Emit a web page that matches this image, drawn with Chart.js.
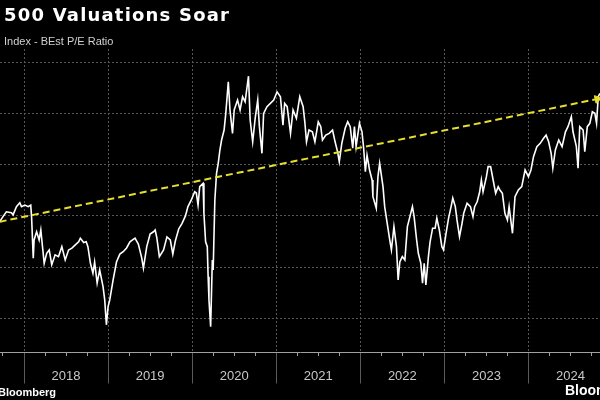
<!DOCTYPE html>
<html>
<head>
<meta charset="utf-8">
<script src="https://cdn.jsdelivr.net/npm/chart.js@4.4.1/dist/chart.umd.min.js"></script>
<style>
  html, body { margin: 0; padding: 0; background: #000; }
  #wrap { position: relative; width: 600px; height: 400px; overflow: hidden; background: #000; }
  #chartBox { position: absolute; left: 0; top: 0; width: 600px; height: 400px; }
  .txt { position: absolute; white-space: nowrap; color: #fff; }
  #title { left: 4px; top: 5.5px; font: bold 18px/18px "DejaVu Sans", sans-serif; letter-spacing: 1.2px; }
  #subtitle { left: 4px; top: 35.7px; font: 11px/11px "Liberation Sans", Arial, sans-serif; color: #d0d0d0; }
  #source { left: -2px; top: 386.7px; font: bold 11px/11px "Liberation Sans", Arial, sans-serif; color: #fff; }
  #logo { left: 565px; top: 383px; font: bold 14px/14px "Liberation Sans", Arial, sans-serif; color: #fff; }
</style>
</head>
<body>
<div id="wrap">
  <div id="chartBox"><canvas id="c" width="600" height="400"></canvas></div>
  <div class="txt" id="title">500 Valuations Soar</div>
  <div class="txt" id="subtitle">Index - BEst P/E Ratio</div>
  <div class="txt" id="source">Bloomberg</div>
  <div class="txt" id="logo">Bloomberg</div>
</div>
<script>
// ---- data (decimal year, forward P/E) ----
const dates = [
  2017.71,2017.75,2017.79,2017.85,2017.87,2017.91,2017.95,2017.97,2018.01,2018.05,
  2018.08,2018.09,2018.11,2018.12,2018.15,2018.18,2018.20,2018.22,2018.24,2018.27,
  2018.30,2018.33,2018.37,2018.41,2018.45,2018.49,2018.53,2018.57,2018.61,2018.65,
  2018.67,2018.71,2018.74,2018.76,2018.79,2018.82,2018.84,2018.87,2018.90,2018.94,
  2018.96,2018.98,2019.00,2019.02,2019.06,2019.10,2019.14,2019.18,2019.22,2019.26,
  2019.32,2019.36,2019.40,2019.42,2019.46,2019.50,2019.54,2019.56,2019.58,2019.61,
  2019.66,2019.70,2019.74,2019.77,2019.80,2019.84,2019.88,2019.92,2019.95,2019.99,
  2020.03,2020.05,2020.07,2020.09,2020.13,2020.14,2020.16,2020.18,2020.19,2020.20,
  2020.22,2020.24,2020.25,2020.27,2020.29,2020.31,2020.33,2020.35,2020.38,2020.40,
  2020.43,2020.45,2020.48,2020.50,2020.54,2020.57,2020.60,2020.63,2020.67,2020.69,
  2020.72,2020.75,2020.78,2020.80,2020.83,2020.85,2020.89,2020.93,2020.97,2021.01,
  2021.05,2021.08,2021.10,2021.13,2021.17,2021.20,2021.24,2021.28,2021.32,2021.34,
  2021.36,2021.39,2021.43,2021.46,2021.50,2021.53,2021.55,2021.59,2021.63,2021.67,
  2021.70,2021.73,2021.75,2021.78,2021.82,2021.85,2021.88,2021.91,2021.93,2021.95,
  2021.99,2022.02,2022.04,2022.06,2022.08,2022.11,2022.14,2022.15,2022.19,2022.21,
  2022.23,2022.27,2022.29,2022.32,2022.35,2022.37,2022.40,2022.43,2022.45,2022.47,
  2022.50,2022.53,2022.56,2022.59,2022.62,2022.64,2022.67,2022.69,2022.72,2022.74,
  2022.76,2022.78,2022.81,2022.83,2022.86,2022.89,2022.91,2022.94,2022.97,2022.99,
  2023.02,2023.05,2023.08,2023.10,2023.13,2023.15,2023.18,2023.21,2023.23,2023.27,
  2023.31,2023.34,2023.36,2023.39,2023.42,2023.44,2023.46,2023.50,2023.52,2023.55,
  2023.58,2023.61,2023.64,2023.66,2023.69,2023.72,2023.75,2023.77,2023.80,2023.81,
  2023.84,2023.88,2023.92,2023.96,2024.00,2024.03,2024.06,2024.10,2024.14,2024.18,
  2024.21,2024.24,2024.27,2024.29,2024.32,2024.36,2024.40,2024.44,2024.47,2024.51,
  2024.53,2024.57,2024.59,2024.61,2024.65,2024.67,2024.70,2024.73,2024.76,2024.79,
  2024.81,2024.83,2024.85
];
const peRatio = [
  17.77,17.97,18.16,18.12,18.04,18.36,18.51,18.36,18.42,18.36,
  18.42,17.97,16.35,17.06,17.38,17.06,17.45,16.80,16.15,16.54,
  16.67,16.09,16.48,16.41,16.80,16.28,16.67,16.74,16.87,16.99,
  17.13,16.96,16.99,16.80,16.15,15.76,16.20,15.38,15.89,15.24,
  14.72,13.75,14.46,14.72,15.50,16.20,16.51,16.60,16.75,16.99,
  17.13,16.90,16.36,15.96,16.80,17.29,17.38,17.45,17.14,16.41,
  16.67,17.18,17.06,16.51,17.02,17.49,17.71,18.00,18.36,18.62,
  18.94,18.89,18.42,19.14,19.27,18.10,16.99,16.80,15.63,14.72,
  13.68,16.28,15.89,18.62,19.66,20.05,20.57,20.96,21.35,22.00,
  23.23,22.13,21.22,22.13,22.52,22.13,22.65,22.45,23.45,21.74,
  20.89,21.81,22.52,21.48,20.44,22.00,22.26,22.39,22.52,22.84,
  22.65,21.54,22.39,22.26,21.22,22.13,21.81,22.65,22.26,21.67,
  20.89,21.35,21.28,20.89,21.67,21.48,20.96,21.15,21.22,21.35,
  20.89,20.50,20.11,20.83,21.42,21.67,21.48,20.64,21.48,20.70,
  21.61,21.28,20.64,19.72,20.37,19.79,19.40,18.75,18.30,19.53,
  20.05,19.14,18.36,17.71,17.06,16.67,17.58,16.80,15.50,16.20,
  16.41,16.28,17.58,17.97,18.36,17.97,17.06,16.54,16.15,15.37,
  16.15,15.31,16.41,16.99,17.52,17.52,17.91,17.45,16.80,16.67,
  17.32,17.91,18.36,18.69,18.36,17.84,17.19,17.71,18.10,18.49,
  18.36,17.97,18.36,18.55,18.94,19.40,18.94,19.53,19.92,19.92,
  19.40,18.88,19.14,19.01,18.88,18.10,17.84,18.36,17.58,17.32,
  18.75,19.01,19.14,19.79,19.53,19.79,20.31,20.70,20.83,21.03,
  21.15,20.89,20.44,19.86,20.57,20.96,20.70,21.28,21.48,21.87,
  21.28,20.70,19.86,21.48,21.35,20.50,21.48,21.61,22.06,22.00,
  21.61,22.65,22.78
];
const trendDates = [2017.71, 2024.82];
const trendValues = [17.77, 22.56];
const yearStarts = [2018, 2019, 2020, 2021, 2022, 2023, 2024, 2025];
const yearLabels = ['2018', '2019', '2020', '2021', '2022', '2023', '2024'];
const yTicks = [14, 16, 18, 20, 22, 24];

// quarter tick positions derived from year starts
const quarterTicks = [2017.75];
yearStarts.slice(0, -1).forEach(y => { quarterTicks.push(y, y + 0.25, y + 0.5, y + 0.75); });

const isYear = v => Math.abs(v - Math.round(v)) < 1e-6;
const isMid = v => Math.abs(v - Math.floor(v) - 0.5) < 1e-6;

const ctx = document.getElementById('c').getContext('2d');
new Chart(ctx, {
  type: 'line',
  data: {
    datasets: [
      {
        label: 'Trend',
        data: trendDates.map((d, i) => ({ x: d, y: trendValues[i] })),
        borderColor: '#e6df2e',
        backgroundColor: '#e6df2e',
        borderWidth: 2,
        borderDash: [7, 4],
        pointRadius: [0, 4.5],
        pointStyle: 'triangle',
        rotation: 78,
        pointBorderWidth: 1,
        order: 0,
        tension: 0
      },
      {
        label: 'BEst P/E',
        data: dates.map((d, i) => ({ x: d, y: peRatio[i] })),
        borderColor: '#ffffff',
        borderWidth: 1.6,
        pointRadius: 0,
        tension: 0,
        order: 1
      }
    ]
  },
  options: {
    responsive: false,
    animation: false,
    layout: { autoPadding: false, padding: { top: 49, left: 0, right: 0, bottom: 0 } },
    plugins: { legend: { display: false }, tooltip: { enabled: false }, title: { display: false } },
    scales: {
      x: {
        type: 'linear',
        min: 2017.7145,
        max: 2024.851,
        afterBuildTicks: s => { s.ticks = quarterTicks.map(v => ({ value: v })); },
        afterFit: s => { s.height = 47.5; },
        ticks: {
          autoSkip: false,
          maxRotation: 0,
          padding: -15,
          color: '#c8c8c8',
          font: { family: '"Liberation Sans", Arial, sans-serif', size: 13 },
          callback: v => isMid(v) ? yearLabels[Math.floor(v) - 2018] : ''
        },
        grid: {
          drawOnChartArea: true,
          tickLength: 31,
          lineWidth: 1,
          color: c => (c.tick && isYear(c.tick.value)) ? '#555555' : 'rgba(0,0,0,0)',
          tickColor: c => (c.tick && isYear(c.tick.value)) ? '#5a5a5a' : '#a0a0a0',
          tickBorderDash: c => (c.tick && isYear(c.tick.value)) ? [] : [3, 100]
        },
        border: { display: true, color: '#a0a0a0', width: 1, dash: [2, 2] }
      },
      y: {
        min: 12.67,
        max: 24.51,
        afterBuildTicks: s => { s.ticks = yTicks.map(v => ({ value: v })); },
        afterFit: s => { s.width = 0; },
        ticks: { display: false },
        grid: { color: '#555555', drawTicks: false, lineWidth: 1 },
        border: { display: false, dash: [2, 2] }
      }
    }
  }
});
</script>
</body>
</html>
